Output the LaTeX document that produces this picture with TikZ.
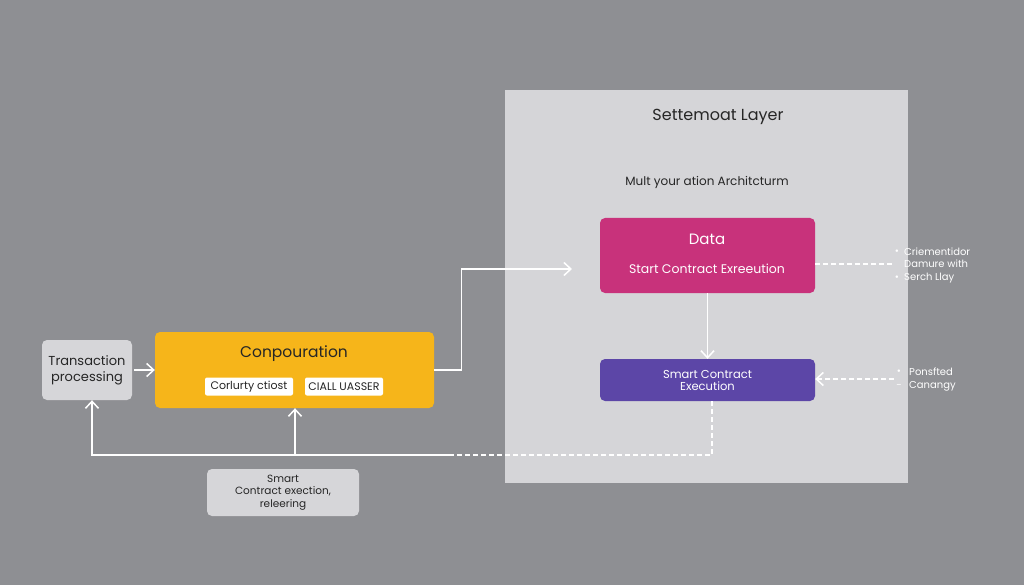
\documentclass[tikz,border=0pt]{standalone}
\usepackage{fontspec}
\setmainfont{Poppins}
\usetikzlibrary{arrows.meta}
\definecolor{bg}{HTML}{8E8F93}
\definecolor{panelc}{HTML}{D5D5D8}
\definecolor{magc}{HTML}{C8327B}
\definecolor{purc}{HTML}{5C46A7}
\definecolor{yelc}{HTML}{F6B51A}
\definecolor{lightc}{HTML}{D6D6D9}
\definecolor{ink}{HTML}{262626}
\tikzset{
  box/.style={rounded corners=5pt, inner sep=0pt, align=center},
  wline/.style={draw=white, line width=1.4pt},
  wdash/.style={draw=white, line width=1.2pt, dash pattern=on 5pt off 3pt},
  tip/.style={-{Straight Barb[length=7pt,width=13pt,line width=1.5pt]}},
  note/.style={text=white, font=\fontsize{10}{12.5}\selectfont, align=left, anchor=west, inner sep=0pt},
  bullet/.style={text=white, font=\fontsize{10}{10}\selectfont, inner sep=0pt},
}
\begin{document}
\begin{tikzpicture}[x=1pt,y=-1pt]
\path[fill=bg] (0,0) rectangle (1024,585);
\useasboundingbox (0,0) rectangle (1024,585);
% panel
\node[fill=panelc, minimum width=403pt, minimum height=393pt, inner sep=0pt] (panel) at (706.5,286.5) {};
\node[text=ink, font=\fontsize{16}{18}\selectfont] (title) at (718,117) {Settemoat Layer};
\node[text=ink, font=\fontsize{12}{14}\selectfont] (sub) at (707,182) {Mult your ation Architcturm};
% data box
\node[box, fill=magc, minimum width=215pt, minimum height=75pt] (data) at (707.5,255.5) {};
\node[text=white, font=\fontsize{15}{17}\selectfont] (dtitle) at (707,239) {Data};
\node[text=white, font=\fontsize{12.5}{14}\selectfont] (dsub) at (707,269) {Start Contract Exreeution};
% purple box
\node[box, fill=purc, minimum width=215pt, minimum height=42pt, text=white, font=\fontsize{11.5}{13}\selectfont] (sce) at (707.5,380) {Smart Contract\\[-1pt]Execution};
% transaction box
\node[box, fill=lightc, minimum width=90pt, minimum height=60pt, text=ink, font=\fontsize{13}{16}\selectfont] (trans) at (87,370) {Transaction\\processing};
% composition box
\node[box, fill=yelc, minimum width=279pt, minimum height=76pt] (comp) at (294.5,370) {};
\node[text=ink, font=\fontsize{15.5}{17}\selectfont] (ctitle) at (294,354) {Conpouration};
\node[box, rounded corners=2pt, fill=white, minimum width=88pt, minimum height=18pt, text=ink, font=\fontsize{11}{12}\selectfont] (tag1) at (249,386.5) {Corlurty ctiost};
\node[box, rounded corners=2pt, fill=white, minimum width=78pt, minimum height=18pt, text=ink, font=\fontsize{11}{12}\selectfont] (tag2) at (344,386.5) {CIALL UASSER};
% smart box
\node[box, fill=lightc, minimum width=152pt, minimum height=47pt, text=ink, font=\fontsize{10.5}{12.5}\selectfont] (smart) at (283,492.5) {Smart\\Contract exection,\\releering};
% notes
\node[note] (note1) at (904,265) {Criementidor\\Damure with\\Serch Llay};
\node[note] (note2) at (909,379.5) {Ponsfted\\Canangy};
\node[bullet] (b1) at (897,252) {•};
\node[bullet] (b2) at (897,278) {•};
\node[bullet] (b3) at (899,372) {•};
\node[bullet] (b4) at (899,386) {-};
% connectors
\coordinate (din) at (572,269);
\coordinate (n1) at (894,264);
\coordinate (n2) at (894,379);
\coordinate (jr) at (712,455);
\coordinate (jm) at (450,455);
\coordinate (jt) at (92,455);
\coordinate (jc) at (295,455);
\coordinate (te) at ([xshift=2pt]trans.east);
\draw[wline, tip] (te) -- (comp.west);
\draw[wline, tip] (comp.east) -- ++(27,0) |- (din);
\draw[wline, tip] (data.south) -- (sce.north);
\draw[wdash] (data.east |- n1) -- (n1);
\draw[wdash, tip] (n2) -- (sce.east |- n2);
\draw[wdash] (sce.south -| jr) -- (jr) -- (jm);
\draw[wline, tip] (jm) -- (jt) -- (trans.south -| jt);
\draw[wline, tip] (jc) -- (comp.south -| jc);
\end{tikzpicture}
\end{document}
